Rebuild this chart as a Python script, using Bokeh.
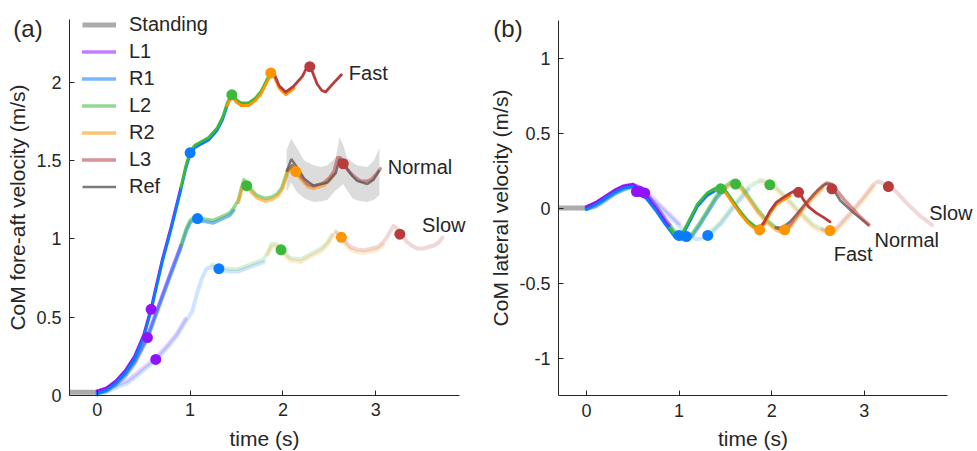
import numpy as np
from bokeh.plotting import figure
from bokeh.models import FixedTicker, Label, Legend, LegendItem, LinearAxis
from bokeh.layouts import row
from bokeh.embed import file_html
from bokeh.resources import INLINE

# ---------------- data ----------------
steps = ["L1", "R1", "L2", "R2", "L3"]
step_colors = ["#9013FE", "#0A7CFF", "#3CB83C", "#FF9500", "#B83C3C"]

x_ticks = [0, 1, 2, 3]
x_tick_labels = ["0", "1", "2", "3"]
ya_ticks = [0, 0.5, 1, 1.5, 2]
ya_tick_labels = ["0", "0.5", "1", "1.5", "2"]
yb_ticks = [-1, -0.5, 0, 0.5, 1]
yb_tick_labels = ["-1", "-0.5", "0", "0.5", "1"]

standing_t = [-0.3, 0.0]
standing_a = [0.02, 0.02]
standing_b = [0.0, 0.0]

# fore-aft velocity (panel a)
fast_a_t = [0, 0.1, 0.2, 0.3, 0.4, 0.5, 0.58, 0.7, 0.8, 0.9, 0.95, 1.0, 1.05, 1.11, 1.2, 1.29, 1.35, 1.4,
            1.45, 1.5, 1.55, 1.63, 1.7, 1.76, 1.82, 1.87, 1.91, 1.96, 2.03, 2.12, 2.21, 2.26, 2.29, 2.33,
            2.37, 2.42, 2.46, 2.55, 2.63]
fast_a_v = [0.02, 0.04, 0.085, 0.15, 0.24, 0.38, 0.55, 0.86, 1.08, 1.32, 1.45, 1.55, 1.59, 1.61, 1.64, 1.70,
            1.77, 1.86, 1.92, 1.88, 1.86, 1.86, 1.89, 1.93, 2.0, 2.06, 2.04, 1.97, 1.93, 1.97, 2.03, 2.09,
            2.10, 2.04, 1.98, 1.94, 1.93, 1.99, 2.04]

normal_a_t = [0, 0.1, 0.2, 0.3, 0.4, 0.54, 0.65, 0.78, 0.9, 0.96, 1.0, 1.04, 1.08, 1.15, 1.25, 1.36, 1.43,
              1.47, 1.52, 1.55, 1.58, 1.62, 1.67, 1.72, 1.81, 1.88, 1.94, 1.99, 2.05, 2.1, 2.14, 2.21, 2.27,
              2.33, 2.39, 2.44, 2.5, 2.55, 2.59, 2.62, 2.65, 2.69, 2.73, 2.79, 2.84, 2.9, 2.95, 3.0, 3.05]
normal_a_v = [0.02, 0.035, 0.075, 0.13, 0.21, 0.37, 0.55, 0.76, 0.95, 1.06, 1.11, 1.13, 1.13, 1.12, 1.11,
              1.14, 1.16, 1.19, 1.24, 1.31, 1.37, 1.34, 1.30, 1.27, 1.25, 1.26, 1.28, 1.32, 1.43, 1.46,
              1.43, 1.38, 1.34, 1.33, 1.34, 1.35, 1.38, 1.42, 1.51, 1.51, 1.48, 1.44, 1.41, 1.38, 1.36,
              1.36, 1.37, 1.40, 1.44]

slow_a_t = [0, 0.1, 0.21, 0.32, 0.42, 0.52, 0.63, 0.75, 0.86, 0.95, 1.02, 1.08, 1.13, 1.18, 1.24, 1.32, 1.43,
            1.52, 1.61, 1.7, 1.79, 1.84, 1.88, 1.93, 1.98, 2.08, 2.19, 2.33, 2.41, 2.48, 2.53, 2.57, 2.63,
            2.68, 2.73, 2.8, 2.87, 2.95, 3.02, 3.08, 3.13, 3.19, 3.23, 3.27, 3.34, 3.4, 3.45, 3.51, 3.57,
            3.63, 3.68, 3.72]
slow_a_v = [0.01, 0.03, 0.06, 0.085, 0.13, 0.18, 0.23, 0.31, 0.39, 0.48, 0.54, 0.67, 0.76, 0.82, 0.83, 0.81,
            0.80, 0.80, 0.82, 0.84, 0.86, 0.91, 0.96, 0.96, 0.93, 0.87, 0.86, 0.905, 0.93, 0.97, 1.02, 1.04,
            1.01, 0.97, 0.94, 0.925, 0.92, 0.93, 0.94, 0.97, 1.01, 1.075, 1.06, 1.03, 0.97, 0.945, 0.93,
            0.93, 0.94, 0.95, 0.97, 1.0]

# reference (normal speed) mean and band, panel a
ref_t = [2.04, 2.09, 2.15, 2.23, 2.33, 2.41, 2.48, 2.57, 2.61, 2.65, 2.69, 2.75, 2.8, 2.91, 2.98, 3.04]
ref_v = [1.43, 1.51, 1.46, 1.385, 1.34, 1.35, 1.36, 1.42, 1.51, 1.50, 1.45, 1.40, 1.37, 1.35, 1.38, 1.44]
ref_hi = [1.57, 1.64, 1.58, 1.50, 1.47, 1.46, 1.47, 1.52, 1.65, 1.60, 1.52, 1.49, 1.47, 1.46, 1.50, 1.58]
ref_lo = [1.30, 1.36, 1.30, 1.26, 1.235, 1.24, 1.25, 1.31, 1.33, 1.35, 1.31, 1.26, 1.245, 1.235, 1.25, 1.28]

# lateral velocity (panel b)
fast_b_t = [0, 0.1, 0.2, 0.3, 0.4, 0.5, 0.58, 0.66, 0.75, 0.85, 0.9, 0.96, 1.0, 1.04, 1.1, 1.2, 1.3, 1.38,
            1.4, 1.45, 1.5, 1.58, 1.66, 1.74, 1.82, 1.87, 1.92, 1.98, 2.05, 2.12, 2.2, 2.26, 2.29, 2.34, 2.4,
            2.48, 2.56, 2.63]
fast_b_v = [0, 0.03, 0.07, 0.11, 0.14, 0.15, 0.12, 0.06, -0.01, -0.1, -0.14, -0.19, -0.2, -0.17, -0.1,
            0.02, 0.09, 0.12, 0.125, 0.13, 0.11, 0.04, -0.03, -0.09, -0.13, -0.14, -0.1, -0.03, 0.03, 0.06,
            0.09, 0.11, 0.11, 0.05, 0.0, -0.04, -0.07, -0.1]

normal_b_t = [0, 0.1, 0.2, 0.3, 0.4, 0.5, 0.58, 0.66, 0.75, 0.85, 0.9, 0.95, 1.02, 1.08, 1.14, 1.22, 1.3,
              1.4, 1.5, 1.57, 1.62, 1.68, 1.76, 1.85, 1.95, 2.05, 2.1, 2.14, 2.2, 2.27, 2.35, 2.45, 2.55,
              2.6, 2.65, 2.7, 2.78, 2.87, 2.96, 3.05]
normal_b_v = [0, 0.02, 0.06, 0.1, 0.13, 0.15, 0.13, 0.08, 0.01, -0.08, -0.12, -0.16, -0.2, -0.2, -0.18,
              -0.11, -0.03, 0.07, 0.14, 0.17, 0.17, 0.13, 0.06, -0.02, -0.09, -0.14, -0.15, -0.15, -0.12,
              -0.06, 0.01, 0.08, 0.14, 0.16, 0.15, 0.11, 0.05, -0.01, -0.07, -0.12]

slow_b_t = [0, 0.15, 0.3, 0.45, 0.6, 0.75, 0.9, 1.0, 1.05, 1.18, 1.3, 1.45, 1.6, 1.75, 1.88, 2.0, 2.15,
            2.3, 2.45, 2.55, 2.6, 2.7, 2.85, 3.0, 3.1, 3.15, 3.3, 3.45, 3.6, 3.73]
slow_b_v = [0, 0.03, 0.1, 0.15, 0.12, 0.04, -0.05, -0.11, -0.14, -0.2, -0.19, -0.1, 0.02, 0.13, 0.18, 0.16,
            0.07, -0.03, -0.12, -0.15, -0.16, -0.14, -0.04, 0.07, 0.15, 0.17, 0.13, 0.03, -0.06, -0.12]

ref_b_t = [2.03, 2.12, 2.2, 2.3, 2.4, 2.5, 2.58, 2.63, 2.68, 2.74, 2.88, 2.96, 3.05]
ref_b_v = [-0.13, -0.13, -0.09, -0.02, 0.05, 0.12, 0.16, 0.16, 0.11, 0.05, -0.03, -0.07, -0.117]

# step time windows for each speed (start, end)
fast_seg_start = [0, 0, 0.9, 1.4, 1.87]
fast_seg_end = [0.9, 1.4, 1.87, 2.2, 2.63]
normal_seg_start = [0, 0, 0.9, 1.5, 2.05]
normal_seg_end = [0.9, 1.5, 2.1, 2.55, 3.05]
slow_seg_start = [0, 0, 1.2, 1.8, 2.55]
slow_seg_end = [1.0, 1.8, 2.55, 3.1, 3.73]

# step event markers
fast_dot_t = [0.58, 1.0, 1.45, 1.87, 2.29]
fast_dot_a = [0.55, 1.55, 1.92, 2.06, 2.10]
fast_dot_b = [0.11, -0.183, 0.128, -0.145, 0.105]
normal_dot_t = [0.54, 1.08, 1.61, 2.14, 2.65]
normal_dot_a = [0.37, 1.13, 1.34, 1.43, 1.48]
normal_dot_b = [0.11, -0.19, 0.16, -0.145, 0.128]
slow_dot_t = [0.63, 1.31, 1.98, 2.63, 3.26]
slow_dot_a = [0.23, 0.81, 0.93, 1.01, 1.03]
slow_dot_b = [0.10, -0.183, 0.155, -0.15, 0.143]

labels_a = [("Fast", 2.71, 2.06), ("Normal", 3.13, 1.46), ("Slow", 3.5, 1.09)]
labels_b = [("Fast", 2.67, -0.305), ("Normal", 3.11, -0.212), ("Slow", 3.70, -0.032)]
tag_a = ("(a)", -0.905, 2.345)
tag_b = ("(b)", -1.005, 1.2)

# ---------------- style ----------------
FONT = "Liberation Sans"
TXT = "#262626"
STANDING = "#ABABAB"
REF = "#5A5A5A"
BAND = "#DCDCDC"
speed_style = {"Fast": (1.0, 2.8), "Normal": (0.55, 3.5), "Slow": (0.2, 4.0)}
step_nudge = [0.008, -0.008, 0.008, -0.008, 0.008]
H = 451


def segment(t, v, a, b):
    t = np.asarray(t, dtype=float)
    v = np.asarray(v, dtype=float)
    m = (t >= a - 1e-6) & (t <= b + 1e-6)
    return t[m], v[m]


def style_axis(ax):
    ax.axis_line_color = TXT
    ax.major_tick_line_color = TXT
    ax.major_tick_in = 5
    ax.major_tick_out = 0
    ax.minor_tick_line_color = None
    ax.major_label_text_font = FONT
    ax.major_label_text_font_size = "18px"
    ax.major_label_text_color = TXT
    ax.axis_label_text_font = FONT
    ax.axis_label_text_font_size = "21px"
    ax.axis_label_text_font_style = "normal"
    ax.axis_label_text_color = TXT


def base_fig(width, x_range, y_range, y_bounds, yticks, ylabels, ylabel, bl, br):
    p = figure(width=width, height=H, x_range=x_range, y_range=y_range,
               output_backend="svg", toolbar_location=None,
               x_axis_location=None, y_axis_location=None,
               min_border_left=bl, min_border_right=br, min_border_top=2, min_border_bottom=0)
    p.grid.visible = False
    p.outline_line_color = None
    p.background_fill_color = "white"
    xax = LinearAxis(fixed_location=y_bounds[0], bounds=(-0.3, 3.9), ticker=FixedTicker(ticks=x_ticks),
                     major_label_overrides={k: s for k, s in zip(x_ticks, x_tick_labels)},
                     axis_label="time (s)")
    style_axis(xax)
    xax.major_label_standoff = 8
    xax.axis_label_standoff = 7
    p.add_layout(xax, "below")
    yax = LinearAxis(fixed_location=-0.3, bounds=y_bounds, ticker=FixedTicker(ticks=yticks),
                     major_label_overrides={k: s for k, s in zip(yticks, ylabels)},
                     axis_label=ylabel)
    style_axis(yax)
    yax.major_label_standoff = 8
    yax.axis_label_standoff = 4
    p.add_layout(yax, "left")
    return p


def draw_speed(p, speed, t, v, starts, ends):
    alpha, lw = speed_style[speed]
    rs = []
    for k in range(len(steps)):
        st, sv = segment(t, v, starts[k], ends[k])
        rs.append(p.line(st, sv + step_nudge[k], line_color=step_colors[k], line_alpha=alpha,
                         line_width=lw, line_cap="round", line_join="round"))
    return rs


def draw_dots(p, dt, dv):
    p.scatter(dt, dv, size=11, fill_color=step_colors, line_color=None)


def add_text(p, txt, x, y, size):
    p.add_layout(Label(x=x, y=y, text=txt, text_font=FONT, text_font_size=size,
                       text_color=TXT, text_baseline="middle", text_align="left"))


# ---------------- panel (a) ----------------
pa = base_fig(489, (-1.0, 4.0), (-0.358, 2.51), (0, 2.4), ya_ticks, ya_tick_labels,
              "CoM fore-aft velocity (m/s)", 4, 21)
pa.varea(ref_t, ref_lo, ref_hi, fill_color=BAND, fill_alpha=1.0)
r_stand = pa.line(standing_t, standing_a, line_color=STANDING, line_width=5)
draw_speed(pa, "Slow", slow_a_t, slow_a_v, slow_seg_start, slow_seg_end)
r_norm = draw_speed(pa, "Normal", normal_a_t, normal_a_v, normal_seg_start, normal_seg_end)
r_ref = pa.line(ref_t, ref_v, line_color=REF, line_alpha=0.8, line_width=2.4)
draw_speed(pa, "Fast", fast_a_t, fast_a_v, fast_seg_start, fast_seg_end)
for dt, dv in ((slow_dot_t, slow_dot_a), (normal_dot_t, normal_dot_a), (fast_dot_t, fast_dot_a)):
    draw_dots(pa, dt, dv)
for txt, x, y in labels_a:
    add_text(pa, txt, x, y, "20px")
add_text(pa, tag_a[0], tag_a[1], tag_a[2], "24px")

leg_items = [LegendItem(label="Standing", renderers=[r_stand])]
for k, s in enumerate(steps):
    leg_items.append(LegendItem(label=s, renderers=[r_norm[k]]))
leg_items.append(LegendItem(label="Ref", renderers=[r_ref]))
# frame bottom is now 56 px below the zero line
legend = Legend(items=leg_items, location=(78, 195 + 56), padding=0, margin=0, spacing=0,
                glyph_width=34, glyph_height=27, label_height=27, label_standoff=13,
                label_text_font=FONT, label_text_font_size="20px", label_text_color=TXT,
                background_fill_alpha=0, border_line_color=None)
pa.add_layout(legend)

# ---------------- panel (b) ----------------
pb = base_fig(488, (-1.046, 4.2), (-1.623, 1.37), (-1.25, 1.25), yb_ticks, yb_tick_labels,
              "CoM lateral velocity (m/s)", 0, 2)
pb.line(standing_t, standing_b, line_color=STANDING, line_width=5)
draw_speed(pb, "Slow", slow_b_t, slow_b_v, slow_seg_start, slow_seg_end)
pb.line(ref_b_t, ref_b_v, line_color=REF, line_alpha=0.8, line_width=2.5)
draw_speed(pb, "Normal", normal_b_t, normal_b_v, normal_seg_start, normal_seg_end)
draw_speed(pb, "Fast", fast_b_t, fast_b_v, fast_seg_start, fast_seg_end)
for dt, dv in ((slow_dot_t, slow_dot_b), (normal_dot_t, normal_dot_b), (fast_dot_t, fast_dot_b)):
    draw_dots(pb, dt, dv)
for txt, x, y in labels_b:
    add_text(pb, txt, x, y, "20px")
add_text(pb, tag_b[0], tag_b[1], tag_b[2], "24px")

layout = row(pa, pb)
open("out.html", "w").write(file_html(layout, INLINE))
